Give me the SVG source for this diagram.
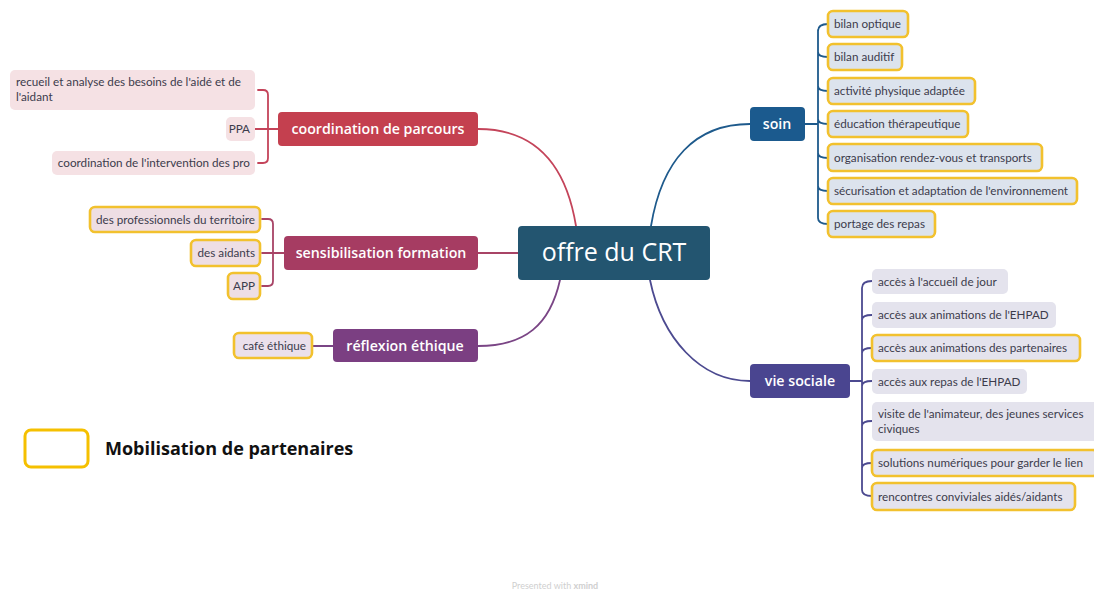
<svg xmlns="http://www.w3.org/2000/svg" width="1094" height="590" viewBox="0 0 1094 590">
<style>
.main{font-family:"Open Sans",Lato,sans-serif;font-weight:600;font-size:14.2px;fill:#fff;text-anchor:middle}
.sub{font-family:Lato,"Open Sans",sans-serif;font-size:11.7px;fill:#3c3c4c}
.subr{font-family:Lato,"Open Sans",sans-serif;font-size:11.7px;fill:#3c3c4c;text-anchor:end}
.y{stroke:#f2c12e;stroke-width:2.6}
.ln{fill:none;stroke-width:1.8;stroke-linecap:round}
</style>
<rect width="1094" height="590" fill="#fff"/>
<g id="connectors">
  <path class="ln" stroke="#c4445a" d="M576 226 C566 165 535 129 478 129"/>
  <path class="ln" stroke="#a84466" d="M518 253 H478"/>
  <path class="ln" stroke="#7a4585" d="M560 280 C550 325 525 346 478 346"/>
  <path class="ln" stroke="#1e5a8c" d="M651 226 C662 160 695 124 750 124"/>
  <path class="ln" stroke="#4c4a90" d="M650 280 C662 338 700 381 750 381"/>
  <path class="ln" stroke="#c4445a" d="M258 90 H263 Q268 90 268 95 V158 Q268 163 263 163 H258 M255 129 H278"/>
  <path class="ln" stroke="#a84466" d="M262 219 H268 Q273 219 273 224 V281 Q273 286 268 286 H262 M262 253 H284"/>
  <path class="ln" stroke="#7a4585" d="M312 346 H333"/>
  <path class="ln" stroke="#1e5a8c" d="M805 124 H818 M818 30 V218 M828 24 Q818 24 818 31 M818 52 Q818 57 828 57 M818 86 Q818 91 828 91 M818 119 Q818 124 828 124 M818 153 Q818 158 828 158 M818 186 Q818 191 828 191 M818 218 Q818 224 828 224"/>
  <path class="ln" stroke="#4c4a90" d="M850 381 H862 M862 288 V490 M872 281 Q862 281 862 288 M862 320 Q862 315 872 315 M862 353 Q862 348 872 348 M862 386 Q862 381 872 381 M862 426 Q862 421 872 421 M862 468 Q862 463 872 463 M862 490 Q862 496 872 496"/>
</g>
<g id="center">
  <rect x="518" y="226" width="192" height="54" rx="4" fill="#235570"/>
  <text x="614" y="261" font-family="'Open Sans',Lato,sans-serif" font-size="25" fill="#fff" text-anchor="middle">offre du CRT</text>
</g>
<g id="coordination">
  <rect x="278" y="112" width="200" height="34" rx="4" fill="#c4404f"/>
  <text class="main" x="378" y="134">coordination de parcours</text>
</g>
<g id="sensibilisation">
  <rect x="284" y="236" width="194" height="34" rx="4" fill="#a63c62"/>
  <text class="main" x="381" y="258">sensibilisation formation</text>
</g>
<g id="reflexion">
  <rect x="333" y="329" width="145" height="33" rx="4" fill="#7b3f82"/>
  <text class="main" x="405" y="351">réflexion éthique</text>
</g>
<g id="soin">
  <rect x="750" y="107" width="55" height="34" rx="4" fill="#1b5a8e"/>
  <text class="main" x="777" y="129">soin</text>
</g>
<g id="vie-sociale">
  <rect x="750" y="364" width="100" height="34" rx="4" fill="#4a4590"/>
  <text class="main" x="800" y="386">vie sociale</text>
</g>
<g id="recueil">
  <rect x="10" y="70" width="245" height="40" rx="5" fill="#f5e1e4"/>
  <text class="sub" x="16" y="86">recueil et analyse des besoins de l'aidé et de</text>
  <text class="sub" x="16" y="101">l'aidant</text>
</g>
<g id="ppa">
  <rect x="226" y="117" width="29" height="24" rx="5" fill="#f5e1e4"/>
  <text class="subr" x="250" y="133">PPA</text>
</g>
<g id="coord-pro">
  <rect x="52" y="151" width="203" height="24" rx="5" fill="#f5e1e4"/>
  <text class="subr" x="250" y="167">coordination de l'intervention des pro</text>
</g>
<g id="professionnels">
  <rect class="y" x="90" y="207" width="170" height="25" rx="5" fill="#eedee4"/>
  <text class="subr" x="255" y="224">des professionnels du territoire</text>
</g>
<g id="aidants">
  <rect class="y" x="191" y="240" width="69" height="26" rx="5" fill="#eedee4"/>
  <text class="subr" x="255" y="257">des aidants</text>
</g>
<g id="app">
  <rect class="y" x="228" y="273" width="32" height="26" rx="5" fill="#eedee4"/>
  <text class="subr" x="255" y="290">APP</text>
</g>
<g id="cafe">
  <rect class="y" x="234" y="333" width="78" height="25" rx="5" fill="#ebe0ec"/>
  <text class="subr" x="306" y="350">café éthique</text>
</g>
<g id="bilan-optique"><rect class="y" x="828" y="11" width="80" height="26" rx="5" fill="#dce3ed"/><text class="sub" x="834" y="28">bilan optique</text></g>
<g id="bilan-auditif"><rect class="y" x="828" y="44" width="74" height="26" rx="5" fill="#dce3ed"/><text class="sub" x="834" y="61">bilan auditif</text></g>
<g id="activite"><rect class="y" x="828" y="78" width="147" height="26" rx="5" fill="#dce3ed"/><text class="sub" x="834" y="95">activité physique adaptée</text></g>
<g id="education"><rect class="y" x="828" y="111" width="140" height="26" rx="5" fill="#dce3ed"/><text class="sub" x="834" y="128">éducation thérapeutique</text></g>
<g id="organisation"><rect class="y" x="828" y="144" width="214" height="27" rx="5" fill="#dce3ed"/><text class="sub" x="834" y="162">organisation rendez-vous et transports</text></g>
<g id="securisation"><rect class="y" x="828" y="178" width="249" height="26" rx="5" fill="#dce3ed"/><text class="sub" x="834" y="195">sécurisation et adaptation de l'environnement</text></g>
<g id="portage"><rect class="y" x="828" y="211" width="107" height="26" rx="5" fill="#dce3ed"/><text class="sub" x="834" y="228">portage des repas</text></g>
<g id="accueil"><rect x="872" y="269" width="136" height="25" rx="5" fill="#e4e3ed"/><text class="sub" x="878" y="286">accès à l'accueil de jour</text></g>
<g id="anim-ehpad"><rect x="872" y="302" width="184" height="26" rx="5" fill="#e4e3ed"/><text class="sub" x="878" y="319">accès aux animations de l'EHPAD</text></g>
<g id="anim-part"><rect class="y" x="872" y="335" width="208" height="26" rx="5" fill="#e4e3ed"/><text class="sub" x="878" y="352">accès aux animations des partenaires</text></g>
<g id="repas"><rect x="872" y="369" width="155" height="25" rx="5" fill="#e4e3ed"/><text class="sub" x="878" y="386">accès aux repas de l'EHPAD</text></g>
<g id="visite"><rect x="872" y="402" width="226" height="39" rx="5" fill="#e4e3ed"/><text class="sub" x="878" y="418">visite de l'animateur, des jeunes services</text><text class="sub" x="878" y="433">civiques</text></g>
<g id="numeriques"><rect class="y" x="872" y="450" width="226" height="26" rx="5" fill="#e4e3ed"/><text class="sub" x="878" y="467">solutions numériques pour garder le lien</text></g>
<g id="rencontres"><rect class="y" x="872" y="483" width="203" height="27" rx="5" fill="#e4e3ed"/><text class="sub" x="878" y="501">rencontres conviviales aidés/aidants</text></g>
<g id="legend">
  <rect x="25" y="430" width="63" height="37" rx="6" fill="#fff" stroke="#f5c000" stroke-width="3"/>
  <text x="105" y="455" font-family="'Open Sans',sans-serif" font-weight="bold" font-size="18" fill="#111">Mobilisation de partenaires</text>
</g>
<text x="555" y="589" font-family="Lato,sans-serif" font-size="9" fill="#cfcfcf" text-anchor="middle">Presented with <tspan font-weight="bold">xmind</tspan></text>
</svg>
